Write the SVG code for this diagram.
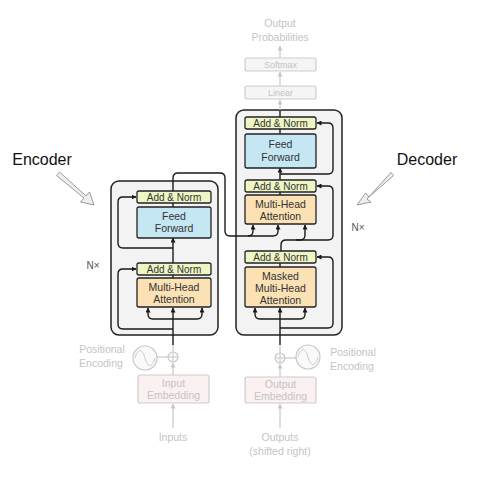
<svg xmlns="http://www.w3.org/2000/svg" width="477" height="483" viewBox="0 0 477 483">
<style>
text{font-family:"Liberation Sans",Arial,sans-serif;text-anchor:middle}
.outer{fill:#f3f3f3;stroke:#222;stroke-width:1.5}
.an{fill:#eff6c6;stroke:#222;stroke-width:1.3}
.ff{fill:#c5e6f3;stroke:#222;stroke-width:1.3}
.mha{fill:#fbe1b4;stroke:#222;stroke-width:1.3}
.lbl{font-size:10.5px;fill:#333}
.anl{font-size:10px;fill:#333}
.fbox{fill:#f5f5f5;stroke:#cdcdcd;stroke-width:1.2}
.ebox{fill:#fbf1f1;stroke:#d2cccc;stroke-width:1.2}
.ftxt{font-size:10.5px;fill:#c4c4c4}
.ftxt2{font-size:9px;fill:#c4c4c4}
.c{fill:none;stroke:#1a1a1a;stroke-width:1.4}
.g{fill:none;stroke:#c8c8c8;stroke-width:1.2}
.big{font-size:16px;fill:#111}
.nx{font-size:10px;fill:#555}
.barrow{fill:#eeeeee;stroke:#9a9a9a;stroke-width:1}
</style>
<defs>
<marker id="ah" viewBox="0 0 10 10" refX="9" refY="5" markerWidth="5" markerHeight="5" markerUnits="userSpaceOnUse" orient="auto"><path d="M0,0 L10,5 L0,10 z" fill="#1a1a1a"/></marker>
<marker id="gh" viewBox="0 0 10 10" refX="9" refY="5" markerWidth="5" markerHeight="5" markerUnits="userSpaceOnUse" orient="auto"><path d="M0,0 L10,5 L0,10 z" fill="#c8c8c8"/></marker>
</defs>

<g id="encoder-block">
<rect class="outer" x="111" y="181" width="107" height="154" rx="8"/>
</g>
<g id="decoder-block">
<rect class="outer" x="236" y="110" width="106" height="225" rx="8"/>
</g>

<g id="connectors">
<!-- encoder -->
<path class="c" d="M173,345 V308" marker-end="url(#ah)"/>
<path class="c" d="M173,319 H153 Q148,319 148,314 V308" marker-end="url(#ah)"/>
<path class="c" d="M173,319 H197 Q202,319 202,314 V308" marker-end="url(#ah)"/>
<path class="c" d="M173,329 H123 Q118,329 118,324 V274 Q118,269 123,269 H136" marker-end="url(#ah)"/>
<path class="c" d="M173,278 V275"/>
<path class="c" d="M173,263 V238" marker-end="url(#ah)"/>
<path class="c" d="M173,248 H123 Q118,248 118,243 V202 Q118,197 123,197 H136" marker-end="url(#ah)"/>
<path class="c" d="M173,207 V203"/>
<path class="c" d="M173,191 V178 Q173,173 178,173 H220 Q225,173 225,178 V231 Q225,236 230,236 H248 Q253,236 253,231 V225" marker-end="url(#ah)"/>
<path class="c" d="M248,236 H273 Q278,236 278,231 V225" marker-end="url(#ah)"/>
<!-- decoder -->
<path class="c" d="M280,345 V308" marker-end="url(#ah)"/>
<path class="c" d="M280,319 H260 Q255,319 255,314 V308" marker-end="url(#ah)"/>
<path class="c" d="M280,319 H300 Q305,319 305,314 V308" marker-end="url(#ah)"/>
<path class="c" d="M280,328 H328 Q333,328 333,323 V262 Q333,257 328,257 H317" marker-end="url(#ah)"/>
<path class="c" d="M280,267 V263"/>
<path class="c" d="M281,251 V245 Q281,240 286,240 H328 Q333,240 333,235 V191 Q333,186 328,186 H317" marker-end="url(#ah)"/>
<path class="c" d="M296,240 H300 Q305,240 305,235 V225" marker-end="url(#ah)"/>
<path class="c" d="M280,195 V192"/>
<path class="c" d="M280,180 V168" marker-end="url(#ah)"/>
<path class="c" d="M280,174 H328 Q333,174 333,169 V128 Q333,123 328,123 H317" marker-end="url(#ah)"/>
<path class="c" d="M280,134 V129"/>
<path class="c" d="M280,117 V110"/>
<!-- faded top -->
<path class="g" d="M280,110 V100" marker-end="url(#gh)"/>
<path class="g" d="M280,86 V72" marker-end="url(#gh)"/>
<path class="g" d="M280,58 V46" marker-end="url(#gh)"/>
<!-- faded bottom -->
<path class="g" d="M173,428 V404" marker-end="url(#gh)"/>
<path class="g" d="M173,375 V363" marker-end="url(#gh)"/>
<path class="g" d="M173,352 V345"/>
<path class="g" d="M157,357 H168"/>
<path class="g" d="M280,428 V404" marker-end="url(#gh)"/>
<path class="g" d="M280,377 V364" marker-end="url(#gh)"/>
<path class="g" d="M280,353 V345"/>
<path class="g" d="M285,358 H296"/>
</g>

<g id="enc-addnorm2"><rect class="an" x="137" y="191" width="74" height="12" rx="2"/><text class="anl" x="174" y="200.6">Add &amp; Norm</text></g>
<g id="enc-ff"><rect class="ff" x="137" y="207" width="74" height="31" rx="2"/><text class="lbl" x="174" y="220">Feed</text><text class="lbl" x="174" y="232">Forward</text></g>
<g id="enc-addnorm1"><rect class="an" x="137" y="263" width="74" height="12" rx="2"/><text class="anl" x="174" y="272.6">Add &amp; Norm</text></g>
<g id="enc-mha"><rect class="mha" x="137" y="278" width="74" height="29" rx="2"/><text class="lbl" x="174" y="290.5">Multi-Head</text><text class="lbl" x="174" y="302.5">Attention</text></g>

<g id="dec-addnorm3"><rect class="an" x="245" y="117" width="71" height="12" rx="2"/><text class="anl" x="280.5" y="126.6">Add &amp; Norm</text></g>
<g id="dec-ff"><rect class="ff" x="245" y="134" width="71" height="34" rx="2"/><text class="lbl" x="280.5" y="147.5">Feed</text><text class="lbl" x="280.5" y="160.5">Forward</text></g>
<g id="dec-addnorm2"><rect class="an" x="245" y="180" width="71" height="12" rx="2"/><text class="anl" x="280.5" y="189.6">Add &amp; Norm</text></g>
<g id="dec-mha"><rect class="mha" x="245" y="195" width="71" height="29" rx="2"/><text class="lbl" x="280.5" y="207.5">Multi-Head</text><text class="lbl" x="280.5" y="219.5">Attention</text></g>
<g id="dec-addnorm1"><rect class="an" x="245" y="251" width="71" height="12" rx="2"/><text class="anl" x="280.5" y="260.6">Add &amp; Norm</text></g>
<g id="dec-masked-mha"><rect class="mha" x="245" y="267" width="71" height="40" rx="2"/><text class="lbl" x="280.5" y="279.5">Masked</text><text class="lbl" x="280.5" y="291.5">Multi-Head</text><text class="lbl" x="280.5" y="303.5">Attention</text></g>

<g id="output-probabilities"><text class="ftxt" x="280" y="27">Output</text><text class="ftxt" x="280" y="41">Probabilities</text></g>
<g id="softmax"><rect class="fbox" x="245" y="58" width="71" height="13" rx="2"/><text class="ftxt2" x="280.5" y="68">Softmax</text></g>
<g id="linear"><rect class="fbox" x="245" y="86" width="71" height="13" rx="2"/><text class="ftxt2" x="280.5" y="96">Linear</text></g>

<g id="enc-posenc">
<circle cx="145" cy="358" r="12" fill="#fafafa" stroke="#c8c8c8" stroke-width="1.2"/>
<path d="M135,358 C138,348 142,348 145,358 S152,368 155,358" fill="none" stroke="#c8c8c8" stroke-width="1"/>
<text class="ftxt" x="102" y="353">Positional</text><text class="ftxt" x="101" y="367">Encoding</text>
</g>
<g id="enc-add"><circle cx="173" cy="357" r="5" fill="#fafafa" stroke="#c8c8c8" stroke-width="1.2"/><path d="M168,357 H178 M173,352 V362" stroke="#c8c8c8" stroke-width="1"/></g>
<g id="input-embedding"><rect class="ebox" x="138" y="375" width="71" height="28" rx="2"/><text class="ftxt" x="173.5" y="386.5">Input</text><text class="ftxt" x="173.5" y="399">Embedding</text></g>
<g id="inputs"><text class="ftxt" x="173" y="441">Inputs</text></g>

<g id="dec-posenc">
<circle cx="308" cy="357" r="12" fill="#fafafa" stroke="#c8c8c8" stroke-width="1.2"/>
<path d="M298,357 C301,347 305,347 308,357 S315,367 318,357" fill="none" stroke="#c8c8c8" stroke-width="1"/>
<text class="ftxt" x="353" y="356">Positional</text><text class="ftxt" x="352" y="370">Encoding</text>
</g>
<g id="dec-add"><circle cx="280" cy="358" r="5" fill="#fafafa" stroke="#c8c8c8" stroke-width="1.2"/><path d="M275,358 H285 M280,353 V363" stroke="#c8c8c8" stroke-width="1"/></g>
<g id="output-embedding"><rect class="ebox" x="245" y="377" width="71" height="26" rx="2"/><text class="ftxt" x="280.5" y="387.5">Output</text><text class="ftxt" x="280.5" y="400">Embedding</text></g>
<g id="outputs"><text class="ftxt" x="280" y="441">Outputs</text><text class="ftxt" x="280" y="455">(shifted right)</text></g>

<g id="encoder-label">
<text class="big" x="42" y="165">Encoder</text>
<path class="barrow" d="M56.5,175.5 L84,198 L80.5,202 L94,205 L89.5,192 L86,196 L59.5,172 Z"/>
<text class="nx" x="93" y="269">N×</text>
</g>
<g id="decoder-label">
<text class="big" x="427" y="165">Decoder</text>
<path class="barrow" d="M393.5,175.5 L369,197 L365.5,193 L357,205 L371,202 L367,199 L391,172.5 Z"/>
<text class="nx" x="358" y="231">N×</text>
</g>
</svg>
